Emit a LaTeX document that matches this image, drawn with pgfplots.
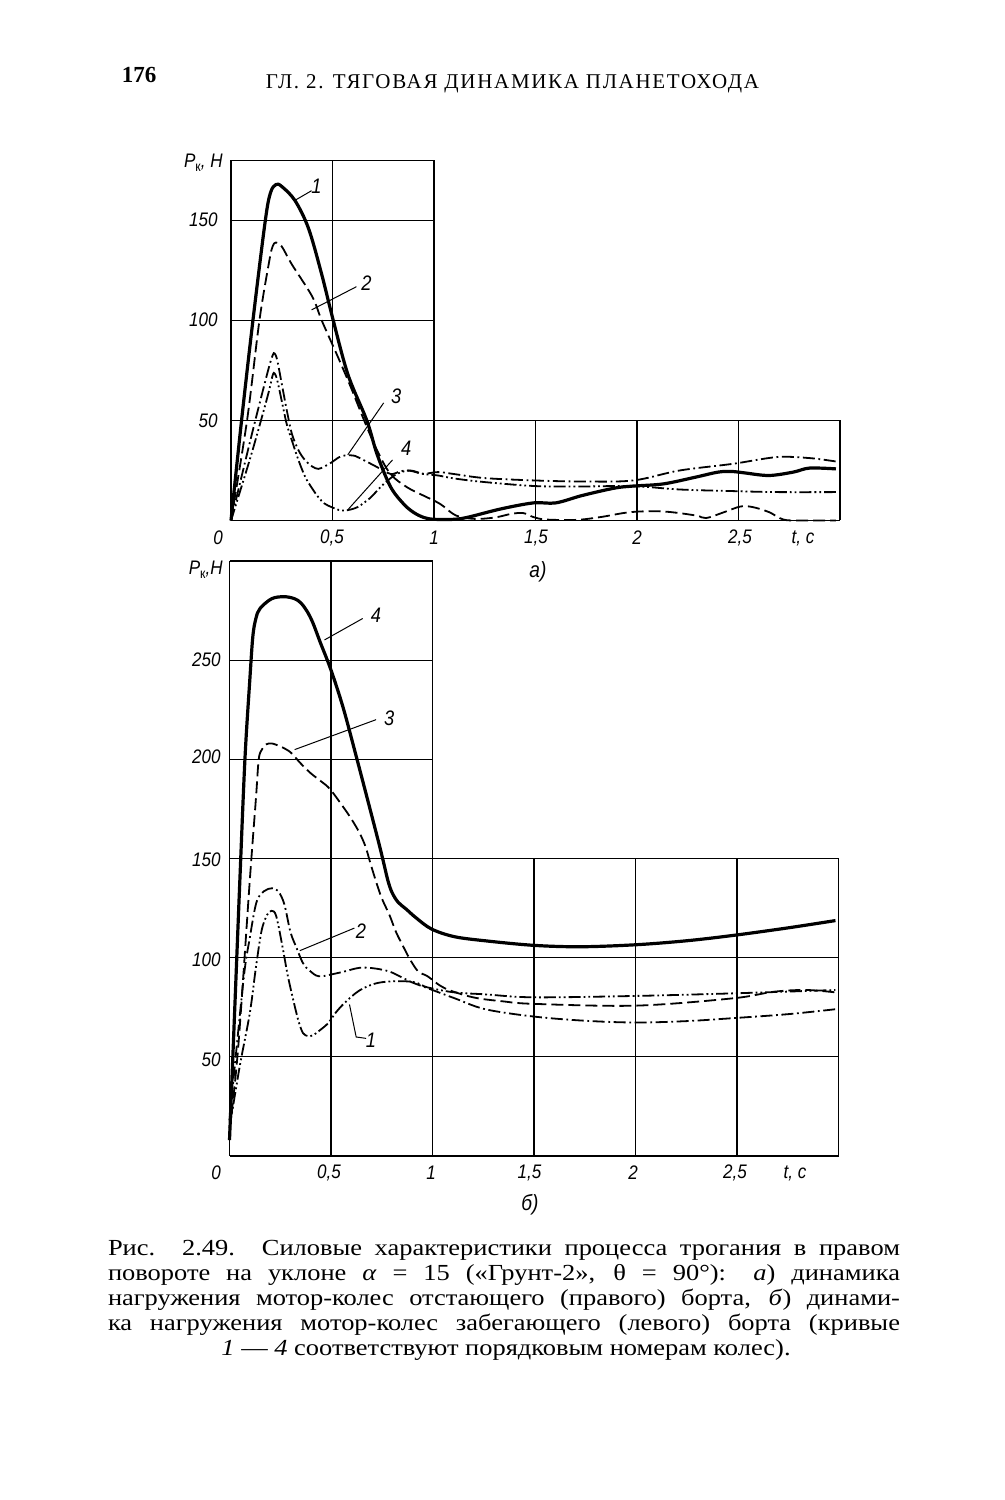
\documentclass[border=0pt]{standalone}
\usepackage{fontspec}
\setmainfont{Liberation Serif}
\newfontfamily\capfont[FakeStretch=1.15]{Liberation Serif}
\newfontfamily\tickfont[FakeStretch=0.87]{Liberation Sans}
\usepackage{pgfplots}
\pgfplotsset{compat=1.18}
\pgfplotsset{
  curveS/.style={black, line width=1.6pt, smooth, tension=0.55, mark=none, line join=round},
  curveD/.style={black, line width=0.9pt, smooth, tension=0.55, mark=none, dash pattern=on 6pt off 2.5pt},
  curveDD/.style={black, line width=0.9pt, smooth, tension=0.55, mark=none, dash pattern=on 6pt off 1.8pt on 0.9pt off 1.8pt},
  curveDDD/.style={black, line width=0.9pt, smooth, tension=0.55, mark=none, dash pattern=on 6pt off 1.5pt on 0.9pt off 1.5pt on 0.9pt off 1.5pt},
}
\tikzset{
  gl/.style={line width=0.6pt, black},
  ld/.style={line width=0.5pt, black},
  cl/.style={font=\tickfont\itshape\fontsize{10.5}{12}\selectfont, inner sep=0pt},
  tk/.style={font=\tickfont\itshape\fontsize{9.8}{11}\selectfont, inner sep=0pt},
}
\newcommand{\Pk}[1]{P\raisebox{-0.35ex}{\fontsize{7}{8}\selectfont\upshape к}#1}
\begin{document}
\begin{tikzpicture}
\useasboundingbox (0,0) rectangle (502.5pt,750pt);
\fill[white] (0,0) rectangle (502.5pt,750pt);

% ---------------- (a)
\begin{axis}[
  at={(115.5pt,489.75pt)}, anchor=south west,
  scale only axis, width=304.5pt, height=180pt,
  xmin=0, xmax=3, ymin=0, ymax=180,
  hide axis, clip=false,
]
% grid
\draw[gl] (axis cs:0,0) -- (axis cs:3,0);
\draw[gl] (axis cs:0,50) -- (axis cs:3,50);
\draw[gl] (axis cs:0,100) -- (axis cs:1,100);
\draw[gl] (axis cs:0,150) -- (axis cs:1,150);
\draw[gl] (axis cs:0,180) -- (axis cs:1,180);
\draw[gl] (axis cs:0,0) -- (axis cs:0,180);
\draw[gl] (axis cs:0.5,0) -- (axis cs:0.5,180);
\draw[gl] (axis cs:1,0) -- (axis cs:1,180);
\draw[gl] (axis cs:1.5,0) -- (axis cs:1.5,50);
\draw[gl] (axis cs:2,0) -- (axis cs:2,50);
\draw[gl] (axis cs:2.5,0) -- (axis cs:2.5,50);
\draw[gl] (axis cs:3,0) -- (axis cs:3,50);
% curve 1
\addplot[curveS] coordinates {
(0,0) (0.052,50) (0.108,100) (0.169,150) (0.195,164) (0.222,168) (0.25,167) (0.315,160) (0.382,146) (0.447,123) (0.5,101.5) (0.576,73) (0.669,50) (0.72,33) (0.785,17) (0.85,8.3) (0.9,4) (0.95,1.5) (1.0,0.6) (1.1,0.6) (1.17,1.7) (1.33,5.8) (1.49,8.8) (1.6,8.8) (1.73,12.5) (1.89,16.2) (1.98,17.2) (2.13,18.3) (2.29,21.7) (2.40,24.2) (2.47,24.5) (2.53,23.8) (2.65,22.5) (2.77,24.2) (2.85,26.2) (2.98,25.8)
};
% curve 2
\addplot[curveD] coordinates {
(0,0) (0.079,50) (0.14,100) (0.189,130) (0.205,137) (0.221,139) (0.25,137) (0.30,128) (0.40,112) (0.447,100) (0.527,81.7) (0.59,66.7) (0.656,50) (0.72,35) (0.785,23.3) (0.866,16.7) (0.947,12.5) (1.03,8.3) (1.108,2.5) (1.2,0.8) (1.3,1.5) (1.38,3.3) (1.44,3.7) (1.49,1.7) (1.55,0.5) (1.7,0.3) (1.82,1.7) (1.97,4.2) (2.13,4.5) (2.29,2.5) (2.34,1.2) (2.43,4.2) (2.51,7) (2.57,6.7) (2.65,4.2) (2.72,0.5) (2.8,0) (2.98,0)
};
% curve 3
\addplot[curveDD] coordinates {
(0,0) (0.1,42) (0.18,74) (0.205,82.5) (0.215,83.5) (0.228,80) (0.253,66.7) (0.275,55) (0.30,43.3) (0.333,35) (0.366,30) (0.40,27) (0.43,25.8) (0.46,27) (0.495,29) (0.53,31.5) (0.56,32.5) (0.6,32.5) (0.624,31.7) (0.705,27.5) (0.785,23.3) (0.83,24.5) (0.866,25) (0.9,24.5) (0.947,23.3) (1.02,24.2) (1.1,23.2) (1.25,21.2) (1.5,20) (1.73,19.5) (1.98,20) (2.21,25) (2.47,28.3) (2.69,31.7) (2.85,31.2) (2.98,29.5)
};
% curve 4
\addplot[curveDDD] coordinates {
(0,0) (0.1,33) (0.18,62) (0.205,72.5) (0.215,73.5) (0.228,70) (0.253,58.3) (0.275,48) (0.30,40) (0.333,30) (0.366,21.7) (0.40,16) (0.43,11.7) (0.46,8.5) (0.495,6.7) (0.53,5.3) (0.56,5) (0.59,5.5) (0.624,6.7) (0.657,9) (0.69,11.7) (0.753,18.3) (0.818,23.3) (0.882,25) (0.947,23.3) (1.02,22.5) (1.1,21) (1.25,19.2) (1.5,17.2) (1.73,17) (1.98,17.2) (2.21,15.5) (2.47,14.7) (2.69,14.2) (2.98,14.2)
};
% curve labels
\draw[ld] (axis cs:0.319,160.3) -- (axis cs:0.397,164.9);
\node[cl] at (axis cs:0.421,166.9) {1};
\draw[ld] (axis cs:0.397,105.3) -- (axis cs:0.618,116.9);
\node[cl] at (axis cs:0.667,118.6) {2};
\draw[ld] (axis cs:0.575,32.8) -- (axis cs:0.752,58.8);
\node[cl] at (axis cs:0.814,61.9) {3};
\draw[ld] (axis cs:0.575,5.3) -- (axis cs:0.796,30.3);
\node[cl] at (axis cs:0.863,36.3) {4};
\end{axis}

% ---------------- (b)
\begin{axis}[
  at={(114.75pt,172pt)}, anchor=south west,
  scale only axis, width=304.5pt, height=297.5pt,
  xmin=0, xmax=3, ymin=0, ymax=300,
  hide axis, clip=false,
]
\draw[gl] (axis cs:0,0) -- (axis cs:3,0);
\draw[gl] (axis cs:0,50) -- (axis cs:3,50);
\draw[gl] (axis cs:0,100) -- (axis cs:3,100);
\draw[gl] (axis cs:0,150) -- (axis cs:3,150);
\draw[gl] (axis cs:0,200) -- (axis cs:1,200);
\draw[gl] (axis cs:0,250) -- (axis cs:1,250);
\draw[gl] (axis cs:0,300) -- (axis cs:1,300);
\draw[gl] (axis cs:0,0) -- (axis cs:0,300);
\draw[gl] (axis cs:0.5,0) -- (axis cs:0.5,300);
\draw[gl] (axis cs:1,0) -- (axis cs:1,300);
\draw[gl] (axis cs:1.5,0) -- (axis cs:1.5,150);
\draw[gl] (axis cs:2,0) -- (axis cs:2,150);
\draw[gl] (axis cs:2.5,0) -- (axis cs:2.5,150);
\draw[gl] (axis cs:3,0) -- (axis cs:3,150);
% curve 4 (solid)
\addplot[curveS] coordinates {
(0,8) (0.025,72) (0.051,139) (0.076,200) (0.1,240) (0.115,262) (0.13,271) (0.15,276) (0.208,281) (0.27,282) (0.32,281) (0.35,279) (0.38,275) (0.41,269) (0.447,259) (0.5,245) (0.56,226) (0.623,202) (0.687,177) (0.735,158) (0.759,148) (0.78,139) (0.80,133) (0.83,128) (0.87,124.5) (0.92,120) (0.996,114.4) (1.107,110.6) (1.26,108.5) (1.5,106.2) (1.73,105.5) (2.0,106.5) (2.25,108.5) (2.48,111.2) (2.75,115) (2.985,118.7)
};
% curve 3 (dashed)
\addplot[curveD] coordinates {
(0,12) (0.043,55) (0.1,139) (0.13,180) (0.144,200) (0.16,205) (0.18,207.5) (0.208,208) (0.25,206.5) (0.30,203.6) (0.35,198) (0.40,193) (0.45,189) (0.495,185) (0.56,176) (0.60,170) (0.64,163) (0.67,156) (0.693,148) (0.72,139) (0.75,130) (0.788,121.5) (0.82,113) (0.852,106.4) (0.89,99) (0.93,93) (0.976,90.6) (1.06,84.6) (1.2,80) (1.345,78) (1.5,76.7) (2.0,75.8) (2.48,79.5) (2.68,82.8) (2.84,83.7) (2.985,82.5)
};
% curve 2 (dash-dot)
\addplot[curveDD] coordinates {
(0,18) (0.068,88) (0.1,110) (0.133,128) (0.17,133.5) (0.21,135) (0.24,133.5) (0.27,127) (0.30,113) (0.33,105) (0.358,98) (0.378,95) (0.406,92.5) (0.427,91) (0.454,90.6) (0.5,91.5) (0.565,93) (0.62,94.5) (0.66,95) (0.72,94.5) (0.788,93) (0.85,90) (0.9,87.5) (0.976,84.6) (1.107,79.6) (1.26,74) (1.5,70.3) (1.75,68.2) (2.0,67.3) (2.25,68) (2.48,69.5) (2.75,71.5) (2.985,74)
};
% curve 1 (dash-dot-dot)
\addplot[curveDDD] coordinates {
(0,14) (0.05,45) (0.1,72) (0.13,95) (0.158,113.6) (0.185,121.5) (0.207,123.6) (0.23,121) (0.262,105) (0.285,92) (0.311,80) (0.34,68) (0.362,62) (0.385,60.5) (0.41,60.8) (0.444,63.3) (0.486,67) (0.525,72.5) (0.565,77) (0.62,82) (0.66,84.6) (0.72,87) (0.788,88) (0.884,88) (0.93,87) (0.976,85) (1.107,82.5) (1.26,81.5) (1.5,80) (2.0,80.7) (2.48,82) (2.985,83.7)
};
% labels
\draw[ld] (axis cs:0.468,260.2) -- (axis cs:0.656,271);
\node[cl] at (axis cs:0.722,272.7) {4};
\draw[ld] (axis cs:0.321,204.9) -- (axis cs:0.722,220);
\node[cl] at (axis cs:0.787,220.8) {3};
\draw[ld] (axis cs:0.346,103.5) -- (axis cs:0.615,114.9);
\node[cl] at (axis cs:0.648,113.6) {2};
\draw[ld] (axis cs:0.591,76.4) -- (axis cs:0.624,60) -- (axis cs:0.673,59.3);
\node[cl] at (axis cs:0.697,58.3) {1};
\end{axis}

% ---------------- page text (pixel coordinates)
\begin{scope}[x=0.5pt, y=-0.5pt, shift={(0pt,750pt)}]
\node[font=\bfseries\fontsize{11.5}{13}\selectfont, inner sep=0pt] at (139,75) {176};
\node[font=\fontsize{10.5}{12}\selectfont\addfontfeature{LetterSpace=8}, inner sep=0pt] at (512.5,84) {ГЛ. 2. ТЯГОВАЯ ДИНАМИКА ПЛАНЕТОХОДА};
% (a) ticks
\node[tk] at (218,538) {0};
\node[tk] at (332,538) {0,5};
\node[tk] at (434,538) {1};
\node[tk] at (536,538) {1,5};
\node[tk] at (637,538) {2};
\node[tk] at (740,538) {2,5};
\node[tk] at (803,538) {t, c};
\node[tk, anchor=east] at (218,220) {150};
\node[tk, anchor=east] at (218,320) {100};
\node[tk, anchor=east] at (218,421) {50};
\node[tk, anchor=east] at (223,163) {\Pk{, H}};
\node[tk, font=\tickfont\itshape\fontsize{11}{13}\selectfont] at (538,572) {а)};
% (b) ticks
\node[tk] at (216,1173) {0};
\node[tk] at (329,1173) {0,5};
\node[tk] at (431,1173) {1};
\node[tk] at (529.5,1173) {1,5};
\node[tk] at (633,1173) {2};
\node[tk] at (735,1173) {2,5};
\node[tk] at (795,1173) {t, c};
\node[tk, anchor=east] at (221,660) {250};
\node[tk, anchor=east] at (221,757) {200};
\node[tk, anchor=east] at (221,860) {150};
\node[tk, anchor=east] at (221,960) {100};
\node[tk, anchor=east] at (221,1060) {50};
\node[tk, anchor=east] at (223,570) {\Pk{,H}};
\node[tk, font=\tickfont\itshape\fontsize{11}{13}\selectfont] at (530,1205) {б)};
% caption
\begin{scope}[every node/.style={inner sep=0pt, anchor=base, font=\capfont\fontsize{11.5}{12.5}\selectfont}]
\node at (504,1256) {\makebox[396pt][s]{Рис. 2.49. Силовые характеристики процесса трогания в правом}};
\node at (504,1281) {\makebox[396pt][s]{повороте на уклоне \textit{α} = 15 («Грунт-2», θ = 90°): \textit{а}) динамика}};
\node at (504,1306) {\makebox[396pt][s]{нагружения мотор-колес отстающего (правого) борта, \textit{б}) динами-}};
\node at (504,1331) {\makebox[396pt][s]{ка нагружения мотор-колес забегающего (левого) борта (кривые}};
\node at (506,1356) {\textit{1} — \textit{4} соответствуют порядковым номерам колес).};
\end{scope}
\end{scope}
\end{tikzpicture}
\end{document}
